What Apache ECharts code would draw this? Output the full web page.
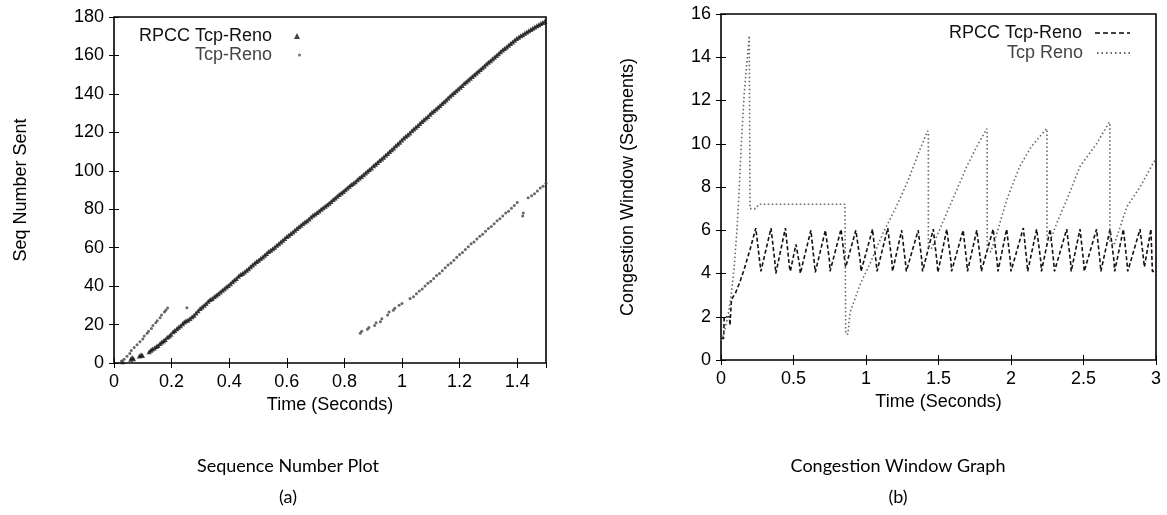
<!DOCTYPE html>
<html>
<head>
<meta charset="utf-8">
<script src="https://cdn.jsdelivr.net/npm/echarts/dist/echarts.min.js"></script>
<style>
html,body{margin:0;padding:0;background:#fff;}
#chart{width:1167px;height:515px;}
</style>
</head>
<body>
<div id="chart"></div>
<script>
// ---- Panel (a): sequence number plot, [time (s), seq number] ----
const seqRpcc = [
[0.030,0.6],[0.058,2.0],[0.063,2.8],[0.068,2.2],[0.088,3.6],[0.094,4.3],[0.099,3.9],[0.122,5.8],[0.128,6.6],[0.133,7.3],[0.140,7.8],[0.147,8.6],[0.153,9.1],[0.160,10.2],[0.166,10.9],[0.172,11.6],[0.178,12.2],[0.185,13.4],[0.192,14.1],[0.198,15.0],[0.205,16.2],[0.211,16.9],[0.218,17.8],[0.224,18.6],[0.231,19.4],[0.238,20.4],[0.244,21.3],[0.250,22.0],[0.257,22.4],[0.264,23.1],[0.271,24.0],[0.278,24.9],[0.285,26.0],[0.292,27.2],[0.299,28.3],[0.306,29.1],[0.313,30.0],[0.320,31.0],[0.327,32.1],[0.334,33.0],[0.341,33.6],[0.348,34.5],[0.355,35.3],[0.362,36.0],[0.369,37.0],[0.376,37.8],[0.383,38.6],[0.390,39.5],[0.397,40.3],[0.404,41.2],[0.411,42.3],[0.418,43.2],[0.425,44.0],[0.432,45.1],[0.439,46.0],[0.446,46.6],[0.453,47.4],[0.460,48.2],[0.467,49.0],[0.474,50.1],[0.481,51.0],[0.488,51.9],[0.495,52.8],[0.502,53.5],[0.509,54.3],[0.516,55.2],[0.523,56.1],[0.530,57.0],[0.537,58.0],[0.544,58.7],[0.551,59.5],[0.558,60.2],[0.565,61.3],[0.572,62.1],[0.579,63.0],[0.586,63.9],[0.593,64.8],[0.600,65.8],[0.607,66.5],[0.614,67.4],[0.621,68.2],[0.628,69.0],[0.635,70.0],[0.642,70.9],[0.649,71.7],[0.656,72.6],[0.663,73.3],[0.670,74.0],[0.677,74.9],[0.684,75.9],[0.691,76.8],[0.698,77.5],[0.705,78.3],[0.712,79.1],[0.719,80.0],[0.726,80.8],[0.733,81.5],[0.740,82.3],[0.747,83.1],[0.754,84.0],[0.761,85.0],[0.768,85.9],[0.775,86.8],[0.782,87.6],[0.789,88.4],[0.796,89.2],[0.803,90.1],[0.810,91.0],[0.817,92.0],[0.824,92.8],[0.831,93.5],[0.838,94.3],[0.845,95.3],[0.852,96.2],[0.859,97.0],[0.866,97.9],[0.873,98.8],[0.880,99.8],[0.887,100.7],[0.894,101.5],[0.901,102.6],[0.908,103.4],[0.915,104.3],[0.922,105.3],[0.929,106.1],[0.936,107.0],[0.943,108.1],[0.950,109.0],[0.957,110.0],[0.964,110.9],[0.971,111.9],[0.978,113.0],[0.985,113.9],[0.992,114.8],[0.999,116.0],[1.006,117.0],[1.013,118.0],[1.020,118.8],[1.027,119.7],[1.034,120.8],[1.041,121.7],[1.048,122.6],[1.055,123.5],[1.062,124.6],[1.069,125.6],[1.076,126.5],[1.083,127.4],[1.090,128.3],[1.097,129.4],[1.104,130.4],[1.111,131.2],[1.118,132.1],[1.125,133.0],[1.132,134.0],[1.139,135.0],[1.146,135.9],[1.153,136.8],[1.160,137.9],[1.167,138.9],[1.174,139.8],[1.181,140.7],[1.188,141.6],[1.195,142.5],[1.202,143.4],[1.209,144.4],[1.216,145.5],[1.223,146.3],[1.230,147.2],[1.237,148.1],[1.244,149.0],[1.251,150.0],[1.258,150.9],[1.265,151.8],[1.272,152.7],[1.279,153.6],[1.286,154.5],[1.293,155.5],[1.300,156.4],[1.307,157.3],[1.314,158.2],[1.321,159.1],[1.328,160.0],[1.335,160.9],[1.342,161.9],[1.349,162.8],[1.356,163.6],[1.363,164.4],[1.370,165.3],[1.377,166.2],[1.384,167.0],[1.391,167.9],[1.398,168.8],[1.405,169.5],[1.412,170.2],[1.419,170.8],[1.426,171.5],[1.433,172.2],[1.440,172.9],[1.447,173.5],[1.454,174.1],[1.461,174.8],[1.468,175.4],[1.475,176.0],[1.482,176.6],[1.489,177.2],[1.496,177.8]
];
const seqReno = [
[0.026,1.0],[0.035,2.0],[0.045,3.5],[0.055,5.0],[0.060,6.5],[0.070,8.0],[0.080,9.5],[0.090,11.0],[0.100,12.5],[0.105,14.0],[0.115,15.5],[0.120,16.5],[0.130,18.0],[0.135,19.5],[0.145,21.0],[0.150,22.0],[0.160,23.5],[0.165,25.0],[0.175,26.5],[0.180,27.5],[0.186,28.6],[0.253,28.8],
[0.855,15.5],[0.860,16.5],[0.880,17.5],[0.885,18.5],[0.905,19.5],[0.910,21.0],[0.925,21.5],[0.930,23.0],[0.950,25.0],[0.955,26.5],[0.970,27.5],[0.975,28.5],[0.990,30.0],[1.000,31.0],[1.028,33.5],[1.040,34.5],[1.050,36.0],[1.060,37.5],[1.070,38.5],[1.080,40.0],[1.090,41.5],[1.100,42.5],[1.110,44.0],[1.120,45.5],[1.130,46.5],[1.140,48.0],[1.150,49.5],[1.160,51.0],[1.170,52.0],[1.180,53.5],[1.190,55.0],[1.200,56.5],[1.210,57.5],[1.220,59.0],[1.230,60.5],[1.240,62.0],[1.250,63.0],[1.260,64.5],[1.270,66.0],[1.280,67.0],[1.290,68.5],[1.300,70.0],[1.310,71.0],[1.320,72.5],[1.330,74.0],[1.340,75.0],[1.350,76.5],[1.360,78.0],[1.370,79.0],[1.380,80.5],[1.390,82.0],[1.400,83.5],[1.419,76.5],[1.421,78.0],[1.438,86.0],[1.450,87.0],[1.460,88.0],[1.470,89.5],[1.480,91.0],[1.490,92.0],[1.500,93.5]
];

// ---- Panel (b): congestion window, [time (s), segments] ----
const cwndRpcc = [
[0.000,1.0],[0.018,1.0],[0.022,2.0],[0.058,2.0],[0.062,1.6],[0.068,1.6],[0.072,2.8],[0.100,3.1],[0.130,3.6],[0.160,4.2],[0.200,5.1],[0.240,6.1],[0.268,4.5],[0.275,4.1],[0.345,6.1],[0.372,4.5],[0.378,4.0],[0.444,6.1],[0.472,4.3],[0.478,4.1],[0.517,5.35],[0.542,4.4],[0.547,4.0],[0.620,6.0],[0.645,4.4],[0.650,4.05],[0.720,6.0],[0.748,4.6],[0.752,4.1],[0.828,6.05],[0.855,4.5],[0.860,4.3],[0.930,6.0],[0.960,4.6],[0.966,4.1],[1.045,6.05],[1.070,4.5],[1.076,4.1],[1.150,6.1],[1.178,4.6],[1.183,4.1],[1.246,6.0],[1.272,4.5],[1.278,4.1],[1.360,6.0],[1.385,4.6],[1.390,4.1],[1.464,6.05],[1.490,4.5],[1.496,4.05],[1.557,6.05],[1.585,4.6],[1.590,4.1],[1.670,6.0],[1.695,4.5],[1.700,4.1],[1.764,6.0],[1.790,4.6],[1.795,4.1],[1.877,6.05],[1.905,4.5],[1.910,4.1],[1.970,6.05],[1.995,4.6],[2.000,4.1],[2.085,6.1],[2.110,4.5],[2.115,4.1],[2.177,6.05],[2.205,4.6],[2.210,4.1],[2.270,6.05],[2.295,4.5],[2.300,4.1],[2.384,6.05],[2.410,4.6],[2.415,4.1],[2.476,6.05],[2.500,4.6],[2.505,4.1],[2.590,6.05],[2.615,4.5],[2.620,4.1],[2.683,6.05],[2.710,4.6],[2.715,4.1],[2.775,6.05],[2.800,4.5],[2.805,4.1],[2.890,6.05],[2.915,4.6],[2.920,4.3],[2.965,6.05],[2.975,4.1],[3.000,4.1]
];
const cwndReno = [
[0.000,0.9],[0.010,1.0],[0.030,1.5],[0.050,2.1],[0.070,3.0],[0.090,4.2],[0.110,6.0],[0.125,7.8],[0.140,10.0],[0.160,12.3],[0.175,13.5],[0.195,15.0],[0.200,15.0],[0.200,7.0],[0.240,7.0],[0.260,7.2],[0.855,7.2],[0.860,1.2],[0.875,1.2],[0.890,2.2],[0.960,3.5],[1.030,4.5],[1.120,5.9],[1.210,7.1],[1.290,8.3],[1.370,9.7],[1.425,10.6],[1.430,10.5],[1.430,5.2],[1.453,5.17],[1.557,6.8],[1.626,7.87],[1.695,8.95],[1.764,9.87],[1.833,10.7],[1.836,10.6],[1.836,5.2],[1.860,5.0],[1.900,5.8],[1.970,7.4],[2.060,8.95],[2.140,9.87],[2.246,10.7],[2.248,10.6],[2.248,5.6],[2.270,5.5],[2.320,6.4],[2.384,7.4],[2.476,8.95],[2.590,10.0],[2.678,11.0],[2.682,10.9],[2.682,5.5],[2.710,5.3],[2.760,6.3],[2.800,7.1],[2.890,8.0],[2.980,9.1],[3.000,9.3]
];

const seqTicks = {min: 0, max: 180, interval: 20};
const seqTimeTicks = {min: 0, max: 1.5, interval: 0.2};
const cwndTicks = {min: 0, max: 16, interval: 2};
const cwndTimeTicks = {min: 0, max: 3, interval: 0.5};

const FONT = 'Liberation Sans';
const tickFont = {fontFamily: FONT, fontSize: 18, color: '#000'};
const nameFont = {fontFamily: FONT, fontSize: 18, color: '#000'};

function axisBase(t, extra) {
  return Object.assign({
    type: 'value', min: t.min, max: t.max, interval: t.interval,
    splitLine: {show: false},
    axisLine: {show: false},
    axisTick: {show: true, inside: true, length: 5, lineStyle: {color: '#000', width: 1}},
    axisLabel: Object.assign({margin: 10}, tickFont)
  }, extra);
}
function mirror(t, extra) {
  return axisBase(t, Object.assign({axisLabel: {show: false}}, extra));
}

const dashIcon = 'path://M0,0h5v2h-5z M8,0h5v2h-5z M16,0h5v2h-5z M24,0h5v2h-5z M32,0h3v2h-3z';
const dotIcon = 'path://M0,0h1.5v2h-1.5z M4.5,0h1.5v2h-1.5z M9,0h1.5v2h-1.5z M13.5,0h1.5v2h-1.5z M18,0h1.5v2h-1.5z M22.5,0h1.5v2h-1.5z M27,0h1.5v2h-1.5z M31.5,0h1.5v2h-1.5z';

const captionFont = {fontFamily: 'Lato', fontSize: 18, fill: '#000', textAlign: 'center', textVerticalAlign: 'middle'};

const option = {
  animation: false,
  backgroundColor: '#fff',
  grid: [
    {left: 114, right: 621, top: 17, bottom: 152, show: true, borderColor: '#000', borderWidth: 1.6},
    {left: 721, right: 11, top: 14, bottom: 155, show: true, borderColor: '#000', borderWidth: 1.6}
  ],
  xAxis: [
    axisBase(seqTimeTicks, {gridIndex: 0, position: 'bottom', name: 'Time (Seconds)', nameLocation: 'middle', nameGap: 25, nameTextStyle: nameFont,
      axisLabel: Object.assign({margin: 10, showMaxLabel: false}, tickFont)}),
    mirror(seqTimeTicks, {gridIndex: 0, position: 'top'}),
    axisBase(cwndTimeTicks, {gridIndex: 1, position: 'bottom', name: 'Time (Seconds)', nameLocation: 'middle', nameGap: 23, nameTextStyle: nameFont}),
    mirror(cwndTimeTicks, {gridIndex: 1, position: 'top'})
  ],
  yAxis: [
    axisBase(seqTicks, {gridIndex: 0, position: 'left', name: 'Seq Number Sent', nameLocation: 'middle', nameGap: 84, nameTextStyle: nameFont}),
    mirror(seqTicks, {gridIndex: 0, position: 'right'}),
    axisBase(cwndTicks, {gridIndex: 1, position: 'left', name: 'Congestion Window (Segments)', nameLocation: 'middle', nameGap: 84, nameTextStyle: nameFont}),
    mirror(cwndTicks, {gridIndex: 1, position: 'right'})
  ],
  legend: [
    {data: [{name: 'RPCC Tcp-Reno', icon: 'triangle', itemStyle: {color: '#111'}}], right: 867, top: 27, padding: 0, align: 'right', orient: 'vertical',
      itemWidth: 6, itemHeight: 6, selectedMode: false, textStyle: {fontFamily: FONT, fontSize: 18, color: '#111', padding: [0, 17, 0, 0]}},
    {data: [{name: 'Tcp-Reno', icon: 'circle', itemStyle: {color: '#555'}}], right: 866, top: 46, padding: 0, align: 'right', orient: 'vertical',
      itemWidth: 3, itemHeight: 3, selectedMode: false, textStyle: {fontFamily: FONT, fontSize: 18, color: '#444', padding: [0, 21, 0, 0]}},
    {data: [{name: 'RPCC Tcp-Reno', icon: dashIcon, itemStyle: {color: '#111', borderWidth: 0}}], right: 37, top: 24, padding: 0, align: 'right', orient: 'vertical',
      itemWidth: 35, itemHeight: 2, selectedMode: false, textStyle: {fontFamily: FONT, fontSize: 18, color: '#111', padding: [0, 8, 0, 0]}},
    {data: [{name: 'Tcp Reno', icon: dotIcon, itemStyle: {color: '#666', borderWidth: 0}}], right: 37, top: 44, padding: 0, align: 'right', orient: 'vertical',
      itemWidth: 35, itemHeight: 2, selectedMode: false, textStyle: {fontFamily: FONT, fontSize: 18, color: '#444', padding: [0, 8, 0, 0]}}
  ],
  graphic: [
    {type: 'text', x: 288, y: 466, style: Object.assign({text: 'Sequence Number Plot'}, captionFont)},
    {type: 'text', x: 288, y: 497, style: Object.assign({text: '(a)'}, captionFont)},
    {type: 'text', x: 898, y: 466, style: Object.assign({text: 'Congestion Window Graph'}, captionFont)},
    {type: 'text', x: 898, y: 497, style: Object.assign({text: '(b)'}, captionFont)}
  ],
  series: [
    {name: 'RPCC Tcp-Reno', type: 'scatter', xAxisIndex: 0, yAxisIndex: 0, data: seqRpcc, symbol: 'triangle', symbolSize: 5,
      itemStyle: {color: '#111'}},
    {name: 'Tcp-Reno', type: 'scatter', xAxisIndex: 0, yAxisIndex: 0, data: seqReno, symbol: 'circle', symbolSize: 3,
      itemStyle: {color: '#444'}},
    {name: 'RPCC Tcp-Reno', type: 'line', xAxisIndex: 2, yAxisIndex: 2, data: cwndRpcc, showSymbol: false,
      lineStyle: {color: '#111', width: 1.6, type: [4, 2.5]}, itemStyle: {color: '#111'}},
    {name: 'Tcp Reno', type: 'line', xAxisIndex: 2, yAxisIndex: 2, data: cwndReno, showSymbol: false,
      lineStyle: {color: '#666', width: 1.6, type: [1.5, 2.5]}, itemStyle: {color: '#666'}}
  ]
};

const chart = echarts.init(document.getElementById('chart'), null, {renderer: 'canvas'});
chart.setOption(option);
</script>
</body>
</html>
